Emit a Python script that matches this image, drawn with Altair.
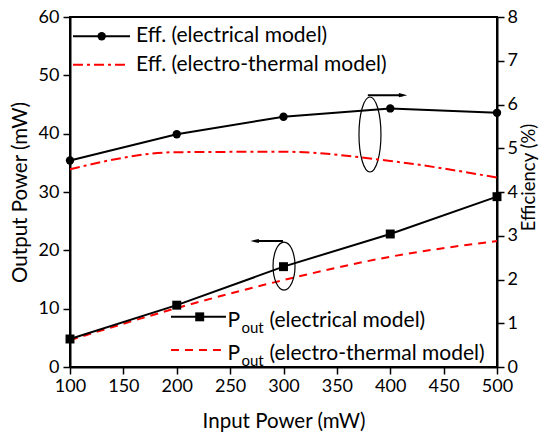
import altair as alt
import pandas as pd

# ---- data ----
input_power = [100, 200, 300, 400, 500]
eff_electrical = [4.72, 5.32, 5.72, 5.91, 5.81]
eff_thermal = [4.52, 4.91, 4.92, 4.71, 4.33]
pout_electrical = [4.8, 10.6, 17.2, 22.8, 29.2]
pout_thermal = [4.6, 10.1, 14.9, 18.9, 21.6]

x_ticks = list(range(100, 525, 25))
left_ticks = list(range(0, 65, 5))
right_ticks = [i * 0.5 for i in range(17)]

FONT = "Lato"
FS = 18
LFS = 21
TFS = 20.5

df = pd.DataFrame({
    "x": input_power,
    "eff_e": eff_electrical,
    "eff_t": eff_thermal,
    "p_e": pout_electrical,
    "p_t": pout_thermal,
})

xscale = alt.Scale(domain=[100, 500], nice=False, zero=False)
yl_scale = alt.Scale(domain=[0, 60], nice=False)
yr_scale = alt.Scale(domain=[0, 8], nice=False)

x_axis = alt.Axis(
    values=x_ticks, title="Input Power (mW)",
    labelExpr="datum.value % 50 === 0 ? datum.label : ''",
    tickSize={"condition": {"test": "datum.value % 50 === 0", "value": 7}, "value": 4},
    labelPadding=3, titlePadding=16, titleFontSize=TFS,
)
yl_axis = alt.Axis(
    values=left_ticks, title="Output Power (mW)",
    labelExpr="datum.value % 10 === 0 ? datum.label : ''",
    tickSize={"condition": {"test": "datum.value % 10 === 0", "value": 7}, "value": 4},
    labelPadding=4, titlePadding=8, titleFontSize=TFS,
)
yr_axis = alt.Axis(
    values=right_ticks, title="Efficiency (%)", orient="right",
    labelExpr="datum.value % 1 === 0 ? datum.label : ''",
    tickSize={"condition": {"test": "datum.value % 1 === 0", "value": 7}, "value": 4},
    labelPadding=3, titlePadding=2, titleAngle=270, titleBaseline="top",
    titleFontSize=18.5, titleY=160,
)

X = alt.X("x:Q", scale=xscale, axis=x_axis)

base = alt.Chart(df)

# ---- left scale layers ----
p_e_line = base.mark_line(color="black", strokeWidth=2).encode(
    x=X, y=alt.Y("p_e:Q", scale=yl_scale, axis=yl_axis))
p_e_pts = base.mark_point(shape="square", filled=True, color="black", size=80, opacity=1).encode(
    x="x:Q", y="p_e:Q")
p_t_line = base.mark_line(color="#ff0000", strokeWidth=2, strokeDash=[8, 6], interpolate="monotone").encode(
    x="x:Q", y="p_t:Q")

# legend (Pout) in data coordinates
leg_p_e = alt.Chart(pd.DataFrame({"x1": [194.6], "x2": [246.1], "y": [8.6]})).mark_rule(
    color="black", strokeWidth=2).encode(x="x1:Q", x2="x2:Q", y="y:Q")
leg_p_t = alt.Chart(pd.DataFrame({"x1": [194.6], "x2": [246.1], "y": [2.9]})).mark_rule(
    color="#ff0000", strokeWidth=2, strokeDash=[8, 6]).encode(x="x1:Q", x2="x2:Q", y="y:Q")
leg_p_mark = alt.Chart(pd.DataFrame({"x": [221.5], "y": [8.6]})).mark_point(
    shape="square", filled=True, color="black", size=80, opacity=1).encode(x="x:Q", y="y:Q")

leg_p_text = pd.DataFrame({"x": [247.5, 247.5], "y": [8.6, 2.9],
                           "rest": ["(electrical model)", "(electro-thermal model)"]})
t_P = alt.Chart(leg_p_text).mark_text(align="left", baseline="middle", font=FONT, fontSize=LFS, dy=4).encode(
    x="x:Q", y="y:Q", text=alt.value("P"))
t_out = alt.Chart(leg_p_text).mark_text(align="left", baseline="middle", font=FONT, fontSize=15, dx=14, dy=11).encode(
    x="x:Q", y="y:Q", text=alt.value("out"))
t_rest = alt.Chart(leg_p_text).mark_text(align="left", baseline="middle", font=FONT, fontSize=LFS, dx=42, dy=4).encode(
    x="x:Q", y="y:Q", text="rest:N")

# legend (Eff) in data coordinates (left scale)
leg_e_e = alt.Chart(pd.DataFrame({"x1": [102.8], "x2": [156.2], "y": [56.7]})).mark_rule(
    color="black", strokeWidth=2).encode(x="x1:Q", x2="x2:Q", y="y:Q")
leg_e_t = alt.Chart(pd.DataFrame({"x1": [102.8], "x2": [152.0], "y": [51.8]})).mark_rule(
    color="#ff0000", strokeWidth=2, strokeDash=[10, 4, 3, 4]).encode(x="x1:Q", x2="x2:Q", y="y:Q")
leg_e_mark = alt.Chart(pd.DataFrame({"x": [129.7], "y": [56.7]})).mark_point(
    shape="circle", filled=True, color="black", size=70, opacity=1).encode(x="x:Q", y="y:Q")
leg_e_text = alt.Chart(pd.DataFrame({"x": [161.8, 161.8], "y": [56.7, 51.8],
                                     "label": ["Eff. (electrical model)", "Eff. (electro-thermal model)"]})).mark_text(
    align="left", baseline="middle", font=FONT, fontSize=LFS).encode(x="x:Q", y="y:Q", text="label:N")

# annotations: ellipses and arrows
def ellipse_path(rx):
    return f"M {-rx},0 A {rx},1 0 1,0 {rx},0 A {rx},1 0 1,0 {-rx},0 Z"

ell1 = alt.Chart(pd.DataFrame({"x": [300.5], "y": [17.3]})).mark_point(
    shape=ellipse_path(0.458), size=2304, color="black", strokeWidth=1.2, filled=False, opacity=1).encode(
    x="x:Q", y="y:Q")
ell2 = alt.Chart(pd.DataFrame({"x": [381.0], "y": [39.86]})).mark_point(
    shape=ellipse_path(0.293), size=5625, color="black", strokeWidth=1.2, filled=False, opacity=1).encode(
    x="x:Q", y="y:Q")

arrows = pd.DataFrame({"x1": [299.5, 379.0], "x2": [273.0, 412.0], "y": [21.6, 46.6]})
arrow_lines = alt.Chart(arrows).mark_rule(color="black", strokeWidth=2).encode(
    x="x1:Q", x2="x2:Q", y="y:Q")
head1 = alt.Chart(pd.DataFrame({"x": [273.0], "y": [21.6]})).mark_point(
    shape="M 1,-0.5 L -1,0 L 1,0.5 Z", size=70, filled=True, color="black", opacity=1).encode(x="x:Q", y="y:Q")
head2 = alt.Chart(pd.DataFrame({"x": [412.0], "y": [46.6]})).mark_point(
    shape="M -1,-0.5 L 1,0 L -1,0.5 Z", size=70, filled=True, color="black", opacity=1).encode(x="x:Q", y="y:Q")

left = alt.layer(
    p_t_line, p_e_line, p_e_pts,
    leg_p_e, leg_p_t, leg_p_mark, t_P, t_out, t_rest,
    leg_e_e, leg_e_t, leg_e_mark, leg_e_text,
    ell1, ell2, arrow_lines, head1, head2,
)

# ---- right scale layers ----
e_t_line = base.mark_line(color="#ff0000", strokeWidth=2, strokeDash=[10, 4, 3, 4], interpolate="monotone").encode(
    x="x:Q", y=alt.Y("eff_t:Q", scale=yr_scale, axis=yr_axis))
e_e_line = base.mark_line(color="black", strokeWidth=2).encode(x="x:Q", y="eff_e:Q")
e_e_pts = base.mark_point(shape="circle", filled=True, color="black", size=70, opacity=1).encode(
    x="x:Q", y="eff_e:Q")
right = alt.layer(e_t_line, e_e_line, e_e_pts)

chart = alt.layer(left, right).resolve_scale(y="independent").properties(
    width=427, height=350,
    background="white",
    autosize=alt.AutoSizeParams(type="none"),
    padding={"left": 62, "top": 9, "right": 43, "bottom": 66},
).configure_view(stroke="black", strokeWidth=2).configure_axis(
    grid=False, domainColor="black", domainWidth=2, tickColor="black", tickWidth=1.5,
    labelFont=FONT, labelFontSize=FS, labelColor="black", labelFlush=False, labelOverlap=False,
    titleFont=FONT, titleFontWeight="normal", titleColor="black",
)

chart.save("out.html", embed_options={"renderer": "svg", "actions": False})
